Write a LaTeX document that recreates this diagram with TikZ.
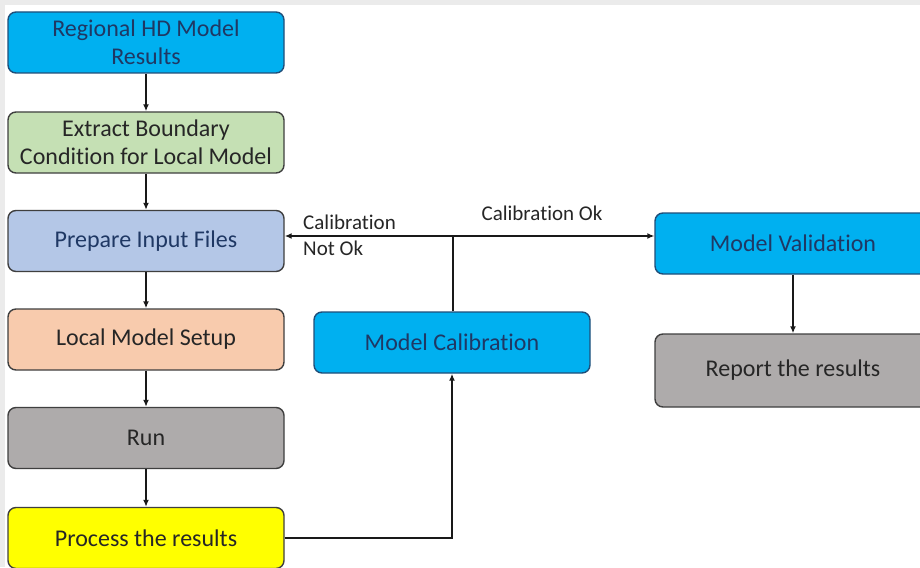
\documentclass[tikz,border=0pt]{standalone}
\usepackage{fontspec}
\setmainfont[Ligatures=NoCommon]{Carlito}
\usetikzlibrary{arrows.meta,calc}
\definecolor{skyblue}{HTML}{00B0F0}
\definecolor{sagegreen}{HTML}{C5E0B4}
\definecolor{paleblue}{HTML}{B4C7E7}
\definecolor{peach}{HTML}{F8CBAD}
\definecolor{stone}{HTML}{AEABAB}
\definecolor{brightyellow}{HTML}{FFFF00}
\definecolor{navytext}{HTML}{1F3864}
\definecolor{inktext}{HTML}{262626}
\definecolor{edgegrey}{HTML}{3F3F3F}
\definecolor{edgeblue}{HTML}{1F4E79}
\definecolor{framegrey}{HTML}{EBEBEB}
\tikzset{
  flowbox/.style={draw=edgegrey, line width=1.4pt, rounded corners=8pt,
    minimum width=276pt, minimum height=61pt, align=center,
    font=\fontsize{24}{28}\selectfont, text=inktext, inner sep=2pt},
  bluebox/.style={flowbox, fill=skyblue, draw=edgeblue, text=navytext},
  link/.style={line width=2pt, draw=black!90,
    -{Latex[length=7pt,width=6pt]}},
  plainlink/.style={line width=2pt, draw=black!90},
  tag/.style={font=\fontsize{21}{26}\selectfont, text=inktext, inner sep=0pt}
}
\begin{document}
\begin{tikzpicture}[x=1pt,y=-1pt]
  \useasboundingbox (0,0) rectangle (920,567);
  \clip (0,0) rectangle (920,567);
  % page frame
  \fill[white] (0,0) rectangle (920,567);
  \fill[framegrey] (0,0) rectangle (920,5);
  \fill[framegrey] (0,0) rectangle (5,567);

  % left column
  \node[bluebox] (regional) at (146,42.5) {Regional HD Model\\Results};
  \node[flowbox, fill=sagegreen] (extract) at (146,142.5) {Extract Boundary\\Condition for Local Model};
  \node[flowbox, fill=paleblue, text=navytext] (prepare) at (146,241) {Prepare Input Files};
  \node[flowbox, fill=peach] (setup) at (146,339.5) {Local Model Setup};
  \node[flowbox, fill=stone] (run) at (146,438) {Run};
  \node[flowbox, fill=brightyellow] (process) at (146,538) {Process the results};

  % middle and right
  \node[bluebox] (calib) at (452,342.5) {Model Calibration};
  \node[bluebox] (valid) at (793,243.5) {Model Validation};
  \node[flowbox, fill=stone, minimum height=73pt] (report) at (793,370.5) {Report the results};

  % connectors
  \draw[link] (regional) -- (extract);
  \draw[link] (extract) -- (prepare);
  \draw[link] (prepare) -- (setup);
  \draw[link] (setup) -- (run);
  \draw[link] (run) -- (process);
  \draw[link] (process.east) -| (calib.south);
  \draw[link] (valid) -- (report);

  \coordinate (fork) at (453,236);
  \draw[plainlink] (calib.north -| fork) -- (fork);
  \draw[link] (fork) -- (fork -| prepare.east);
  \draw[link] (fork) -- (fork -| valid.west);

  % branch labels
  \node[tag, anchor=west] (notok1) at (303,222) {Calibration};
  \node[tag, anchor=west] (notok2) at (303,248) {Not Ok};
  \node[tag] (okay) at (542,213) {Calibration Ok};
\end{tikzpicture}
\end{document}
